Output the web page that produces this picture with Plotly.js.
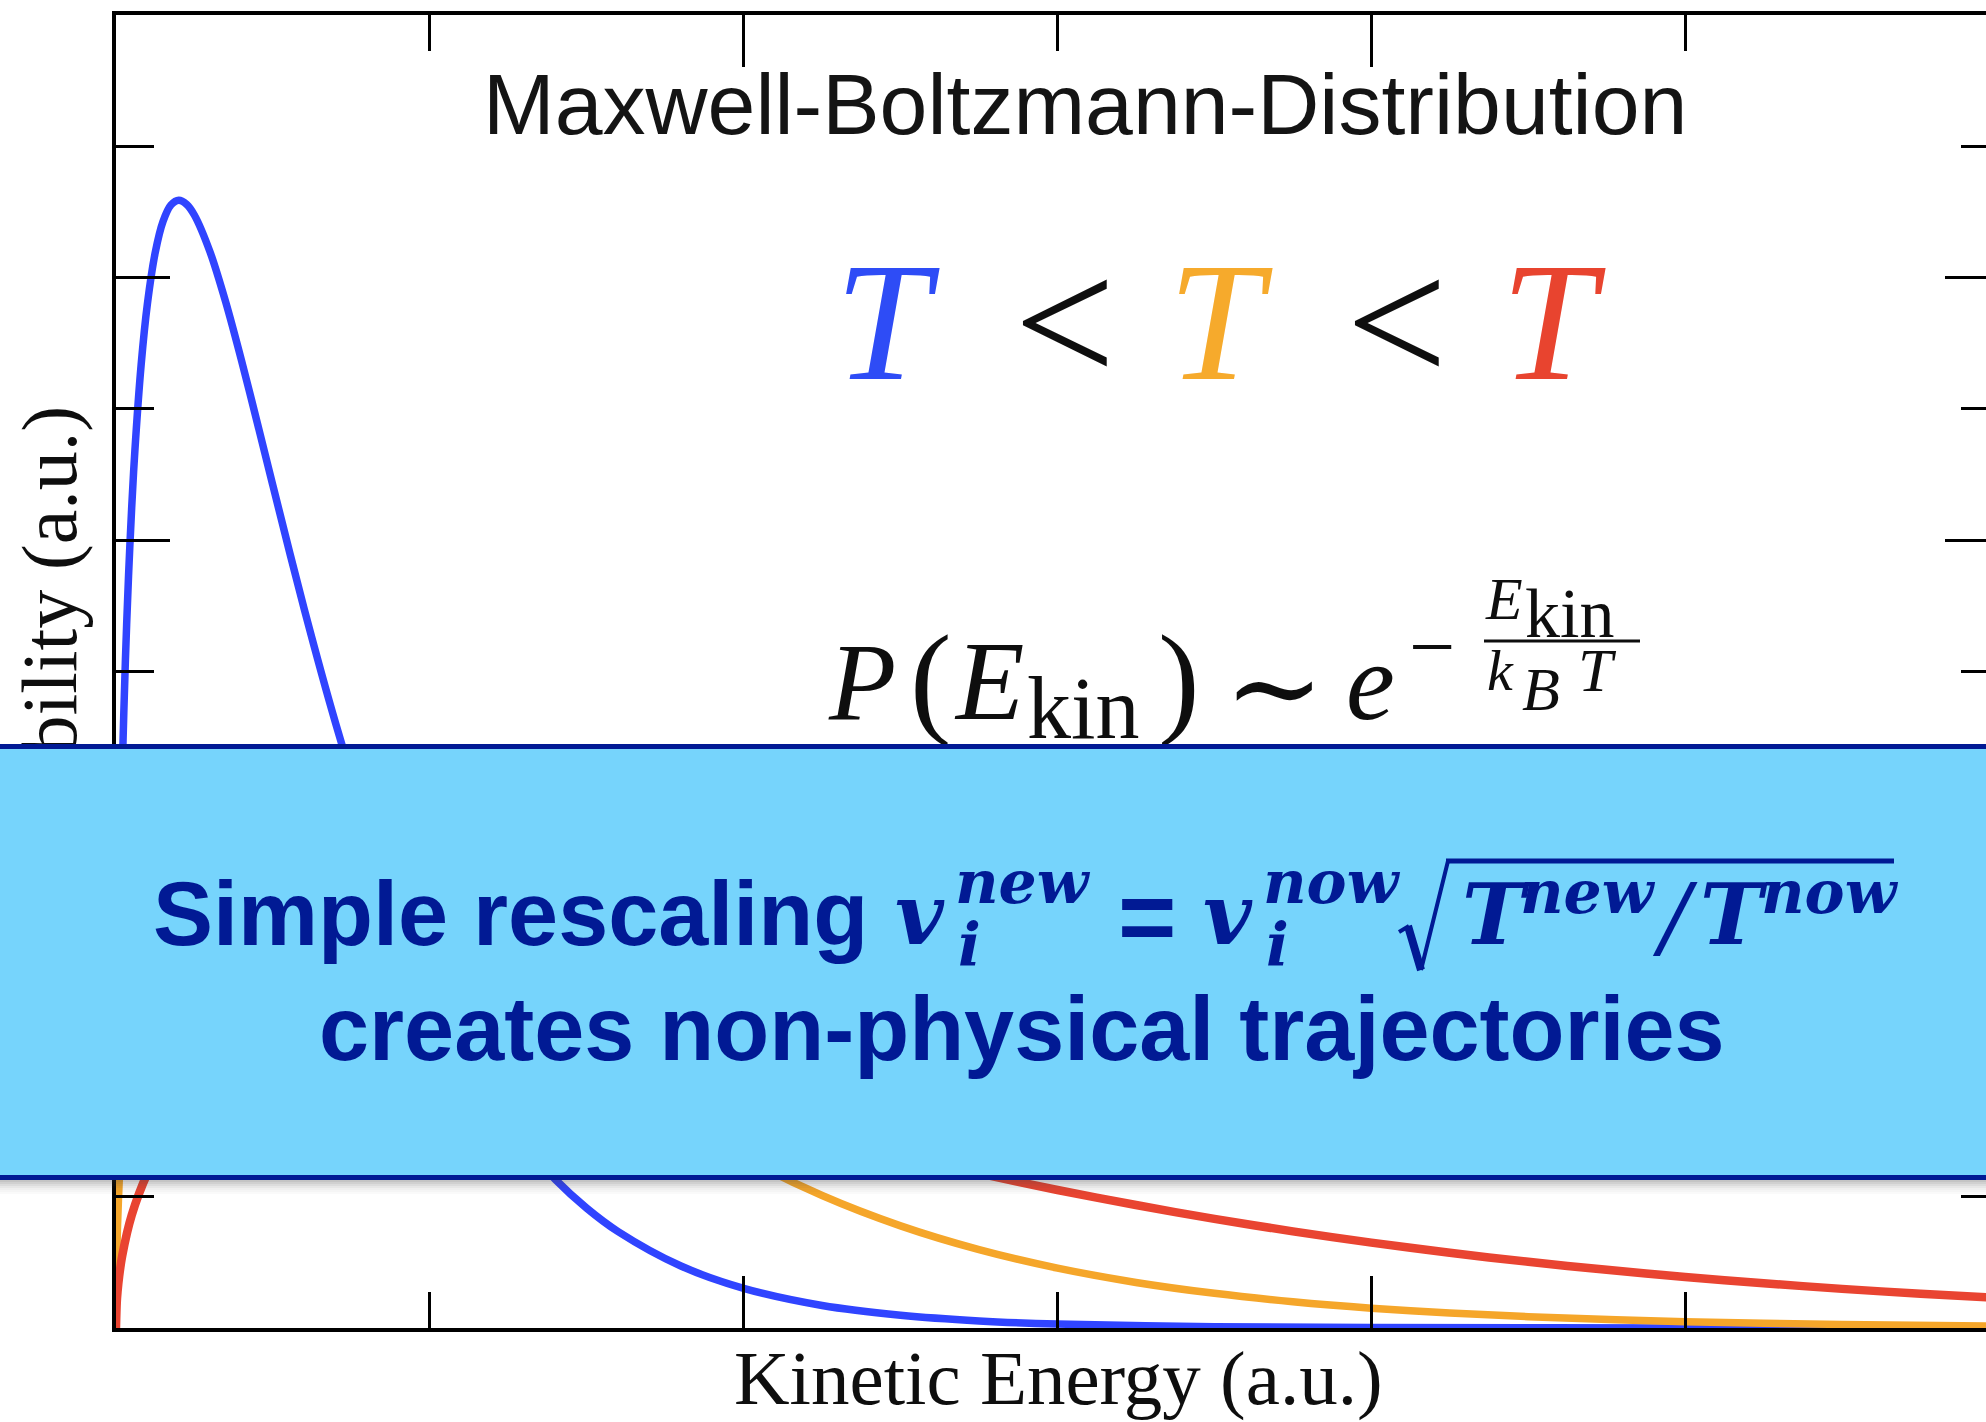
<!DOCTYPE html>
<html>
<head>
<meta charset="utf-8">
<script src="https://cdn.plot.ly/plotly-3.0.1.min.js"></script>
<style>
html,body{margin:0;padding:0;overflow:hidden;background:#ffffff;}
#chart{width:2009px;height:1422px;}
</style>
</head>
<body>
<div id="chart"></div>
<script>
// ---------- data (energy in a.u., probability in a.u.) ----------
const blueE = [0,0.0025,0.005,0.01,0.015,0.02,0.03,0.04,0.05,0.06,0.08,0.1,0.125,0.15,0.175,0.2,0.225,0.25,0.3,0.35,0.4,0.45,0.5,0.6,0.7,0.8,0.9,1.0,1.1,1.2,1.3,1.4,1.5,1.6,1.8,2.0,2.25,2.5,2.75,3.0,3.5,4.0,5.0,6.0];
const blueP = [0,1.573,2.211,3.088,3.735,4.260,5.088,5.731,6.249,6.676,7.333,7.799,8.191,8.429,8.553,8.589,8.558,8.475,8.193,7.810,7.368,6.896,6.415,5.473,4.604,3.833,3.166,2.599,2.123,1.727,1.400,1.131,0.912,0.734,0.472,0.302,0.171,0.097,0.054,0.030,0.009,0.003,0.0003,0];

const orangeE = [0,0.0025,0.005,0.01,0.02,0.035,0.05,0.075,0.1,0.15,0.2,0.25,0.3,0.4,0.5,0.6,0.7,0.8,1.0,1.2,1.4,1.6,1.8,2.0,2.25,2.5,2.75,3.0,3.25,3.5,3.75,4.0,4.25,4.5,5.0,5.5,6.0];
const orangeP = [0,0.558,0.787,1.106,1.544,2.005,2.352,2.792,3.124,3.595,3.899,4.096,4.215,4.295,4.237,4.097,3.905,3.684,3.208,2.737,2.302,1.917,1.583,1.300,1.009,0.778,0.597,0.456,0.347,0.264,0.200,0.151,0.114,0.086,0.048,0.027,0.015];

const redE = [0,0.0025,0.005,0.01,0.02,0.05,0.1,0.15,0.2,0.3,0.4,0.5,0.6,0.8,1.0,1.2,1.4,1.6,1.8,2.0,2.25,2.5,2.75,3.0,3.25,3.5,3.75,4.0,4.25,4.5,4.75,5.0,5.25,5.5,5.75,6.0];
const redP = [0,0.198,0.279,0.393,0.553,0.858,1.176,1.396,1.562,1.797,1.950,2.048,2.107,2.147,2.119,2.048,1.952,1.842,1.724,1.604,1.454,1.312,1.177,1.051,0.937,0.831,0.736,0.650,0.573,0.504,0.443,0.389,0.341,0.298,0.261,0.228];

const xRange = [0, 6];
const yRange = [0, 10];

const titleText = 'Maxwell-Boltzmann-Distribution';
const xTitle = 'Kinetic Energy (a.u.)';
const yTitle = 'Probability (a.u.)';
const bannerLine1 = 'Simple rescaling';
const bannerLine2 = 'creates non-physical trajectories';

// ---------- styles ----------
const BLUE = '#3044FF', ORANGE = '#F5A62A', RED = '#E94431';
const NAVY = '#011A94', BANNER = '#76D4FC';
const SERIF = 'Liberation Serif, Times New Roman, serif';
const SANS = 'Liberation Sans, Arial, sans-serif';
const MATH = 'DejaVu Serif, serif';

const W = 2009, H = 1422, ML = 116, MR = 10, MT = 15, MB = 94;
const PW = W - ML - MR, PH = H - MT - MB;
const fx = p => (p - ML) / PW;
const fy = p => (H - MB - p) / PH;
const K = 0.345;

function txt(text, x, base, size, family, color, anchor, fontExtra, extra) {
  return Object.assign({
    xref: 'paper', yref: 'paper', x: fx(x), y: fy(base - K * size),
    xanchor: anchor || 'left', yanchor: 'middle', text: text, showarrow: false,
    borderpad: 0, borderwidth: 0,
    font: Object.assign({family: family, size: size, color: color}, fontExtra || {})
  }, extra || {});
}
function seg(x0, y0, x1, y1, w, color) {
  return {
    xref: 'paper', yref: 'paper', x: fx(x1), y: fy(y1), ax: x0 - x1, ay: y0 - y1,
    axref: 'pixel', ayref: 'pixel', showarrow: true, arrowhead: 0, arrowwidth: w,
    arrowcolor: color, text: ' ', font: {size: 1}, borderpad: 0, borderwidth: 0,
    standoff: 0, startstandoff: 0
  };
}
const IT = {style: 'italic'};
const BI = {style: 'italic', weight: 'bold'};
const B = {weight: 'bold'};
const INK = '#0e0e0e';

const annotations = [
  // chart title
  txt(titleText, 1085, 134, 86, SANS, '#141414', 'center'),
  // T < T < T
  txt('T', 887, 381, 170, SERIF, '#2E4CF6', 'center', IT),
  txt('<', 1065, 385, 180, SERIF, INK, 'center'),
  txt('T', 1220, 381, 170, SERIF, '#F6AA2C', 'center', IT),
  txt('<', 1397, 385, 180, SERIF, INK, 'center'),
  txt('T', 1553, 381, 170, SERIF, '#E8442F', 'center', IT),
  // P(E_kin) ~ e^{-E_kin/(k_B T)}
  txt('P', 828, 720, 110, SERIF, INK, 'left', IT),
  txt('(', 910, 722, 125, SERIF, INK, 'left'),
  txt('E', 954, 720, 112, SERIF, INK, 'left', IT),
  txt('kin', 1027, 739, 88, SERIF, INK, 'left'),
  txt(')', 1158, 722, 125, SERIF, INK, 'left'),
  txt('∼', 1274, 729, 120, MATH, INK, 'center'),
  txt('e', 1346, 720, 110, SERIF, INK, 'left', IT),
  txt('−', 1432, 675, 82, SERIF, INK, 'center'),
  txt('E', 1485, 620, 60, SERIF, INK, 'left', IT),
  txt('kin', 1525, 638, 70, SERIF, INK, 'left'),
  txt('k', 1487, 691, 58, SERIF, INK, 'left', IT),
  txt('B', 1522, 710, 62, SERIF, INK, 'left', IT),
  txt('T', 1578, 691, 62, SERIF, INK, 'left', IT),
  // axis titles
  {xref: 'paper', yref: 'paper', x: fx(49), y: fy((MT + H - MB) / 2), xanchor: 'center', yanchor: 'middle',
   text: yTitle, textangle: -90, showarrow: false, borderpad: 0, borderwidth: 0,
   font: {family: SERIF, size: 78, color: INK}},
  txt(xTitle, 1058, 1405, 77, SERIF, INK, 'center'),
  // banner box
  {xref: 'paper', yref: 'paper', x: fx(1005), y: fy(962), xanchor: 'center', yanchor: 'middle',
   text: ' ', showarrow: false, width: 2090, height: 426, bgcolor: BANNER, bordercolor: NAVY,
   borderwidth: 5, borderpad: 0, font: {size: 1}},
  // banner line 1
  txt(bannerLine1, 153, 945, 90, SANS, NAVY, 'left', B),
  txt('v', 895, 943, 84, MATH, NAVY, 'left', BI),
  txt('new', 955, 903, 60, MATH, NAVY, 'left', BI),
  txt('i', 958, 966, 60, MATH, NAVY, 'left', BI),
  txt('=', 1147, 950, 100, SANS, NAVY, 'center', B),
  txt('v', 1203, 943, 84, MATH, NAVY, 'left', BI),
  txt('now', 1263, 903, 60, MATH, NAVY, 'left', BI),
  txt('i', 1266, 966, 60, MATH, NAVY, 'left', BI),
  seg(1399, 932, 1409, 926, 4, NAVY),
  seg(1408, 926, 1421, 970, 8, NAVY),
  seg(1421, 970, 1448, 861, 4, NAVY),
  seg(1446, 861, 1894, 861, 5, NAVY),
  txt('T', 1462, 943, 84, MATH, NAVY, 'left', BI),
  txt('new', 1520, 913, 60, MATH, NAVY, 'left', BI),
  txt('/', 1652, 948, 90, MATH, NAVY, 'left', IT),
  txt('T', 1700, 943, 84, MATH, NAVY, 'left', BI),
  txt('now', 1761, 913, 60, MATH, NAVY, 'left', BI),
  // banner line 2
  txt(bannerLine2, 1022, 1060, 90, SANS, NAVY, 'center', B)
];

// shadow under the banner, fraction bar
const shapes = [
  {type: 'line', xref: 'paper', yref: 'paper', x0: fx(1484), x1: fx(1640), y0: fy(641), y1: fy(641),
   line: {color: INK, width: 3}, layer: 'above'}
];
const shadowAlpha = [0.30, 0.24, 0.18, 0.12, 0.08, 0.05, 0.025];
shadowAlpha.forEach(function (a, i) {
  shapes.push({type: 'rect', xref: 'paper', yref: 'paper', x0: fx(-20), x1: fx(2040),
    y0: fy(1180 + 2 * i), y1: fy(1182 + 2 * i), line: {width: 0},
    fillcolor: 'rgba(60,60,60,' + a + ')', layer: 'above'});
});

const traces = [
  {x: blueE, y: blueP, type: 'scatter', mode: 'lines', line: {color: BLUE, width: 7.5, shape: 'spline', smoothing: 0.9}, hoverinfo: 'skip'},
  {x: orangeE, y: orangeP, type: 'scatter', mode: 'lines', line: {color: ORANGE, width: 7.5, shape: 'spline', smoothing: 0.9}, hoverinfo: 'skip'},
  {x: redE, y: redP, type: 'scatter', mode: 'lines', line: {color: RED, width: 8.5, shape: 'spline', smoothing: 0.9}, hoverinfo: 'skip'}
];

const axisCommon = {
  showgrid: false, zeroline: false, showticklabels: false, showline: true,
  linecolor: '#000', linewidth: 4, mirror: 'ticks', ticks: 'inside',
  tickcolor: '#000', tickwidth: 3, tickmode: 'linear', tick0: 0, dtick: 2, fixedrange: true
};

const layout = {
  width: W, height: H, autosize: false,
  margin: {l: ML, r: MR, t: MT, b: MB, pad: 0},
  paper_bgcolor: '#ffffff', plot_bgcolor: '#ffffff',
  showlegend: false,
  xaxis: Object.assign({}, axisCommon, {range: xRange, ticklen: 52,
    minor: {tick0: 0, dtick: 1, ticks: 'inside', ticklen: 36, tickwidth: 3, tickcolor: '#000'}}),
  yaxis: Object.assign({}, axisCommon, {range: yRange, ticklen: 54,
    minor: {tick0: 0, dtick: 1, ticks: 'inside', ticklen: 38, tickwidth: 3, tickcolor: '#000'}}),
  annotations: annotations,
  shapes: shapes
};

Plotly.newPlot('chart', traces, layout, {displayModeBar: false, staticPlot: true});
</script>
</body>
</html>
